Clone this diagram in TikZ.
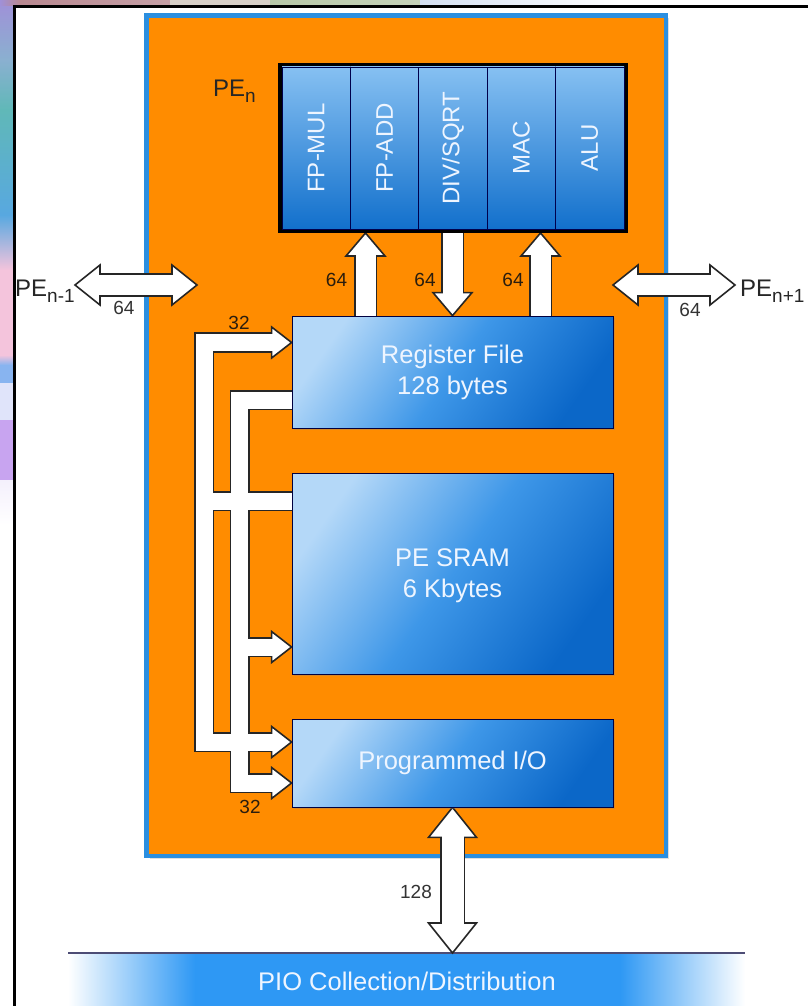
\documentclass[tikz,border=0pt]{standalone}
\usepackage{fontspec}
\setmainfont{Liberation Sans}
\usetikzlibrary{calc,shadows}
\definecolor{orng}{HTML}{FF8C00}
\definecolor{bord}{HTML}{2B8FE0}
\definecolor{bL}{HTML}{B4D8F8}
\definecolor{bM}{HTML}{3E97E8}
\definecolor{bD}{HTML}{0B67C8}
\definecolor{cT}{HTML}{86C0F2}
\definecolor{cB}{HTML}{1270CC}
\definecolor{bandc}{HTML}{2E98F4}
\definecolor{labc}{HTML}{2A1D0E}
\definecolor{wt}{HTML}{EEF5FF}
\definecolor{sA}{HTML}{A090D8}
\definecolor{sB}{HTML}{8AB0D0}
\definecolor{sC}{HTML}{60B8B8}
\definecolor{sD}{HTML}{58A8E0}
\definecolor{sE}{HTML}{F4C4DC}
\definecolor{sF}{HTML}{88B4F0}
\definecolor{sG}{HTML}{E0E4FA}
\definecolor{sH}{HTML}{C8A4F0}
\definecolor{sI}{HTML}{F4F0FC}
\definecolor{tA}{HTML}{B88890}
\definecolor{tB}{HTML}{D8D0C8}
\definecolor{tC}{HTML}{B8C8A8}
\definecolor{tD}{HTML}{D4E0F2}
\newcommand\fntBox{\fontsize{25.5pt}{31pt}\selectfont}
\newcommand\fntFU{\fontsize{24pt}{28pt}\selectfont}
\newcommand\fntLab{\fontsize{19pt}{22pt}\selectfont}
\newcommand\fntPE{\fontsize{24pt}{28pt}\selectfont}
\newcommand\pesub[1]{\raisebox{-6pt}{\fontsize{19pt}{19pt}\selectfont #1}}
\newcommand\ahU[3]{\filldraw[headst] (#1) -- ++(#2,#3) -- ++(-2*#2,0) -- cycle;}
\newcommand\ahD[3]{\filldraw[headst] (#1) -- ++(#2,-#3) -- ++(-2*#2,0) -- cycle;}
\newcommand\ahR[3]{\filldraw[headst] (#1) -- ++(-#3,#2) -- ++(0,-2*#2) -- cycle;}
\newcommand\ahL[3]{\filldraw[headst] (#1) -- ++(#3,#2) -- ++(0,-2*#2) -- cycle;}
\pgfdeclarelayer{deco}
\pgfdeclarelayer{busk}
\pgfdeclarelayer{head}
\pgfdeclarelayer{busw}
\pgfsetlayers{deco,busk,head,busw,main}
\tikzset{
  headst/.style={fill=white, draw=black!85, line width=1.6pt, line join=miter},
  busK/.style={line width=20.2pt, draw=black!85, line join=miter},
  busW/.style={line width=17pt, draw=white, line join=miter},
  arrK/.style={line width=23.2pt, draw=black!85},
  arrW/.style={line width=20pt, draw=white},
  bigK/.style={line width=25.2pt, draw=black!85},
  bigW/.style={line width=22pt, draw=white},
  box/.style={draw=black!75!blue, line width=0.8pt, top color=bL, bottom color=bD, middle color=bM, shading angle=55,
    minimum width=321pt, text=wt, font=\fntBox, align=center, inner sep=0pt,
    drop shadow={shadow xshift=2pt, shadow yshift=-2pt, opacity=0.3}},
  col/.style={draw=black!70!blue, line width=0.8pt, top color=cT, bottom color=cB,
    minimum width=68.4pt, minimum height=162pt, inner sep=0pt},
  futext/.style={text=wt, font=\fntFU, rotate=90, inner sep=0pt},
  lbl/.style={text=labc, font=\fntLab, inner sep=0pt},
  pelab/.style={text=black!85, font=\fntPE, inner sep=0pt}
}
\begin{document}
\begin{tikzpicture}[x=1pt,y=-1pt]
\useasboundingbox (0,0) rectangle (808,1006);
\begin{pgfonlayer}{deco}
\fill[white] (0,0) rectangle (808,1006);
% left strip
\shade[top color=sA, bottom color=sB] (0,0) rectangle (14,60);
\shade[top color=sB, bottom color=sC] (0,60) rectangle (14,110);
\shade[top color=sC, bottom color=sD] (0,110) rectangle (14,215);
\shade[top color=sD, bottom color=sE] (0,215) rectangle (14,270);
\fill[sE] (0,270) rectangle (14,355);
\shade[top color=sE, bottom color=sF] (0,355) rectangle (14,365);
\fill[sF] (0,365) rectangle (14,383);
\fill[sG] (0,383) rectangle (14,420);
\fill[sH] (0,420) rectangle (14,480);
\shade[top color=sI, bottom color=white] (0,480) rectangle (14,525);
% top strip
\shade[left color=sA, right color=tA] (0,0) rectangle (20,5.5);
\shade[left color=tA, right color=tA!80!white] (20,0) rectangle (170,5.5);
\shade[left color=tB, right color=tB] (170,0) rectangle (270,5.5);
\shade[left color=tC, right color=tC!80!white] (270,0) rectangle (420,5.5);
\shade[left color=tD, right color=white] (420,0) rectangle (620,5.5);
% frame
\draw[line width=2.5pt] (14.5,1010) -- (14.5,6.75) -- (812,6.75);
% PE box
\node[draw=bord, line width=4.5pt, fill=orng, minimum width=519.5pt, minimum height=840.5pt, inner sep=0pt,
  drop shadow={shadow xshift=3pt, shadow yshift=-3pt, opacity=0.25}] (pe) at (406.25,435.75) {};
% PIO band
\shade[left color=white, right color=bandc] (68,954) rectangle (195,1006);
\fill[bandc] (195,954) rectangle (620,1006);
\shade[left color=bandc, right color=white] (620,954) rectangle (745,1006);
\coordinate (bl1) at (68,953);
\coordinate (bl2) at (745,953);
\draw[line width=2pt, draw=black!60!blue!40!gray] (bl1) -- (bl2);
\node[text=wt, font=\fntBox, inner sep=0pt] (pcd) at (407,981) {PIO Collection/Distribution};
\end{pgfonlayer}

% functional units
\node[draw=black, line width=4pt, fill=cB, minimum width=346pt, minimum height=166pt, inner sep=0pt,
  drop shadow={shadow xshift=2pt, shadow yshift=-2pt, opacity=0.45}] (fu) at (453,148) {};
\node[col] (c1) at (316.2,148) {};
\node[col] (c2) at (384.6,148) {};
\node[col] (c3) at (453,148) {};
\node[col] (c4) at (521.4,148) {};
\node[col] (c5) at (589.8,148) {};
\node[futext] at (c1) {FP-MUL};
\node[futext] at (c2) {FP-ADD};
\node[futext] at (c3) {DIV/SQRT};
\node[futext] at (c4) {MAC};
\node[futext] at (c5) {ALU};

% memory boxes
\node[box, minimum height=112pt] (rf) at (452.5,372) {Register File\\128 bytes};
\node[box, minimum height=201pt, text depth=0pt] (sram) at (452.5,573.5) {PE SRAM\\6 Kbytes};
\node[box, minimum height=88pt] (pio) at (452.5,763) {Programmed I/O};

% labels
\node[pelab, anchor=base west] (pen) at (213,97) {PE\pesub{n}};
\node[pelab, anchor=base west] (pel) at (15,296) {PE\pesub{n-1}};
\node[pelab, anchor=base west] (per) at (740,296) {PE\pesub{n+1}};

% coordinates
\coordinate (tA1) at ($(rf.west)+(0,-29.5)$);
\coordinate (tA2) at ($(pio.west)+(0,-21)$);
\coordinate (tB1) at ($(sram.west)+(0,73.5)$);
\coordinate (tB2) at ($(pio.west)+(0,20)$);
\coordinate (u1) at ($(rf.north)+(-87,0)$);
\coordinate (u1t) at (u1 |- fu.south);
\coordinate (d0) at (rf.north);
\coordinate (d0t) at (d0 |- fu.south);
\coordinate (u2) at ($(rf.north)+(88,0)$);
\coordinate (u2t) at (u2 |- fu.south);
\coordinate (lA) at (75,285);
\coordinate (lB) at (197,285);
\coordinate (rA) at (613,285);
\coordinate (rB) at (735,285);
\coordinate (vA) at (pio.south);
\coordinate (vB) at (pio.south |- bl1);

\node[lbl] (l1) at ($(u1)+(-29,-36)$) {64};
\node[lbl] (l2) at ($(d0)+(-27.5,-36)$) {64};
\node[lbl] (l3) at ($(u2)+(-27.5,-36)$) {64};
\node[lbl, text=black!80] (l4) at ($(lA)+(49,23)$) {64};
\node[lbl, text=black!80] (l5) at ($(rA)+(77,25)$) {64};
\node[lbl] (l6) at (239,323) {32};
\node[lbl] (l7) at (250,807) {32};
\node[lbl, text=black!80] (l8) at (416,892) {128};

% connectors: black outline pass
\begin{pgfonlayer}{busk}
\draw[busK] ($(tA1)+(-20,0)$) -| ($(tA2)+(-87.5,0)$) -- ($(tA2)+(-20,0)$);
\draw[busK] ($(sram.west)+(-87.5,-72.5)$) -- ($(sram.west)+(0,-72.5)$);
\draw[busK] ($(rf.west)+(0,28)$) -| ($(tB2)+(-52,0)$) -- ($(tB2)+(-20,0)$);
\draw[busK] ($(tB1)+(-52,0)$) -- ($(tB1)+(-20,0)$);
\draw[arrK] (u1) -- ($(u1t)+(0,23)$);
\draw[arrK] (d0t) -- ($(d0)+(0,-23)$);
\draw[arrK] (u2) -- ($(u2t)+(0,23)$);
\draw[arrK] ($(lA)+(25,0)$) -- ($(lB)+(-25,0)$);
\draw[arrK] ($(rA)+(25,0)$) -- ($(rB)+(-25,0)$);
\draw[bigK] ($(vA)+(0,30)$) -- ($(vB)+(0,-30)$);
\end{pgfonlayer}
\begin{pgfonlayer}{head}
\ahR{tA1}{15.5}{20}
\ahR{tA2}{15.5}{20}
\ahR{tB1}{15.5}{20}
\ahR{tB2}{15.5}{20}
\ahU{u1t}{19.5}{23}
\ahD{d0}{19.5}{23}
\ahU{u2t}{19.5}{23}
\ahL{lA}{20}{25}
\ahR{lB}{20}{25}
\ahL{rA}{20}{25}
\ahR{rB}{20}{25}
\ahU{vA}{24}{30}
\ahD{vB}{24}{30}
\end{pgfonlayer}
\begin{pgfonlayer}{busw}
\draw[busW] ($(tA1)+(-18,0)$) -| ($(tA2)+(-87.5,0)$) -- ($(tA2)+(-18,0)$);
\draw[busW] ($(sram.west)+(-87.5,-72.5)$) -- ($(sram.west)+(0,-72.5)$);
\draw[busW] ($(rf.west)+(0,28)$) -| ($(tB2)+(-52,0)$) -- ($(tB2)+(-18,0)$);
\draw[busW] ($(tB1)+(-52,0)$) -- ($(tB1)+(-18,0)$);
\draw[arrW] (u1) -- ($(u1t)+(0,21)$);
\draw[arrW] (d0t) -- ($(d0)+(0,-21)$);
\draw[arrW] (u2) -- ($(u2t)+(0,21)$);
\draw[arrW] ($(lA)+(23,0)$) -- ($(lB)+(-23,0)$);
\draw[arrW] ($(rA)+(23,0)$) -- ($(rB)+(-23,0)$);
\draw[bigW] ($(vA)+(0,28)$) -- ($(vB)+(0,-28)$);
\end{pgfonlayer}
\end{tikzpicture}
\end{document}
